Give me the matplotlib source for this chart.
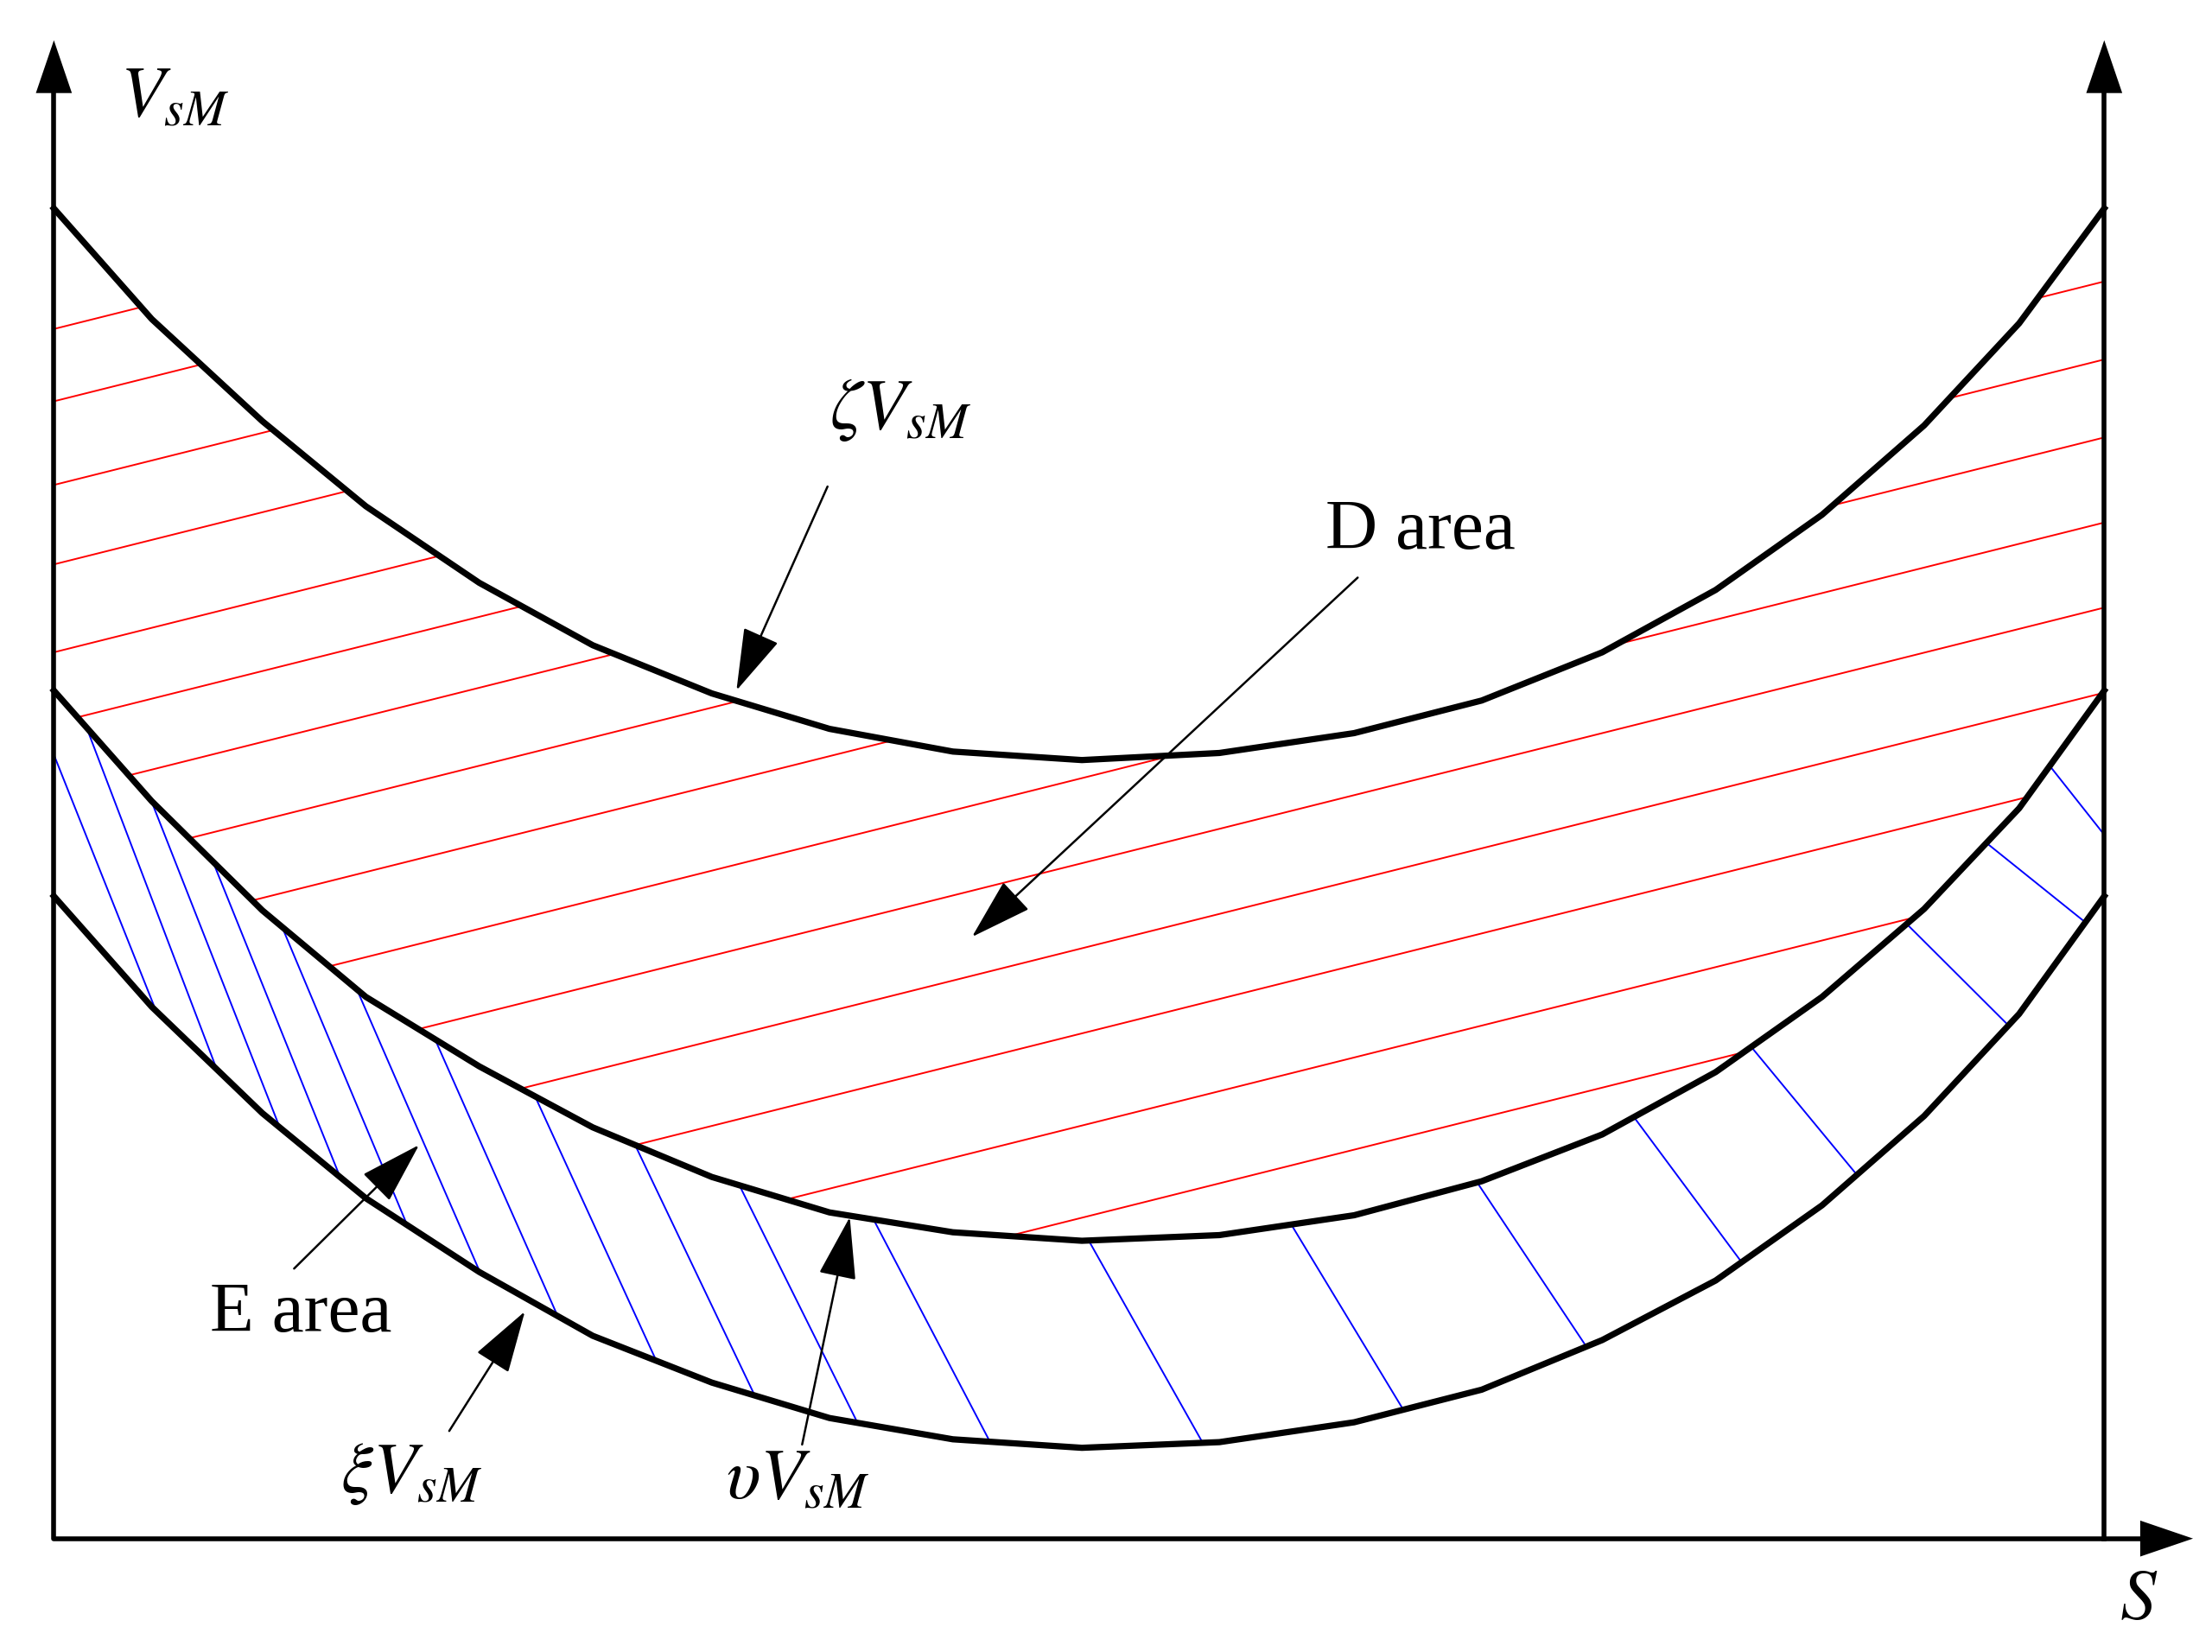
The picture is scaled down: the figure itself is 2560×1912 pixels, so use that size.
import matplotlib
matplotlib.use("Agg")
import matplotlib.pyplot as plt
from matplotlib.patches import Polygon
import numpy as np

H = 1165  # image-like coordinate frame, y measured downward then flipped
S = [38, 107, 185, 258, 338, 418, 502, 585, 672, 763, 860, 955, 1045, 1130, 1210, 1285, 1357, 1424, 1484]
top = [147, 225, 297, 357, 411, 455, 489, 514, 530, 536, 531, 517, 494, 460, 416, 363, 300, 228, 147]
mid = [487, 565, 642, 703, 752, 795, 830, 855, 869, 875, 871, 857, 833, 800, 756, 703, 641, 570, 487]
bot = [632, 710, 785, 845, 897, 942, 975, 1000, 1015, 1021, 1017, 1003, 980, 945, 903, 850, 787, 715, 632]
red_offsets = [232, 283, 342, 398, 460, 510, 560, 615, 670, 730, 790, 850, 910, 975, 1040, 1100]
blue_starts = [20, 62, 107, 150, 198, 250, 305, 375, 445, 518, 612, 763, 905, 1035, 1145, 1227, 1335, 1390, 1440]

S = np.array(S)
fy = lambda a: H - np.array(a, dtype=float)

fig = plt.figure(figsize=(12.8, 9.56), dpi=200)
ax = fig.add_axes([0, 0, 1, 1])
ax.set_xlim(0, 1560)
ax.set_ylim(0, H)
ax.axis("off")
plt.rcParams["font.family"] = "Liberation Serif"

# hatch regions
d_poly = Polygon(np.column_stack([np.r_[S, S[::-1]], np.r_[fy(top), fy(mid)[::-1]]]),
                 closed=True, fc="none", ec="none")
e_poly = Polygon(np.column_stack([np.r_[S, S[::-1]], np.r_[fy(mid), fy(bot)[::-1]]]),
                 closed=True, fc="none", ec="none")
ax.add_patch(d_poly)
ax.add_patch(e_poly)

xs = np.array([0, 1560])
for c in red_offsets:
    ln, = ax.plot(xs, fy(c - 0.25 * (xs - 38)), color="red", lw=0.7)
    ln.set_clip_path(d_poly)
for x0 in blue_starts:
    y0 = np.interp(x0, S, mid) - 30
    x1 = x0 + 90
    y1 = np.interp(x1, S, bot) + 30
    ln, = ax.plot([x0 - 12, x1 + 12], fy([y0, y1]), color="blue", lw=0.7)
    ln.set_clip_path(e_poly)

for c in (top, mid, bot):
    ax.plot(S, fy(c), color="black", lw=2.6)

# axes
ax.plot([38, 38, 1520], fy([50, 1085, 1085]), color="black", lw=2)
ax.plot([1484, 1484], fy([50, 1085]), color="black", lw=2)
for x, y, dx, dy in [(38, 70, 0, 45), (1484, 70, 0, 45), (1505, 1085, 45, 0)]:
    ax.annotate("", xy=(x + dx, H - y + dy), xytext=(x, H - y),
                arrowprops=dict(arrowstyle="-|>,head_length=2.2,head_width=0.75",
                                color="black", lw=0))

def pointer(tx, ty, hx, hy):
    ax.annotate("", xy=(hx, H - hy), xytext=(tx, H - ty),
                arrowprops=dict(arrowstyle="-|>,head_length=2.3,head_width=0.7",
                                color="black", lw=0.9))

pointer(585, 340, 518, 490)
pointer(960, 405, 683, 663)
pointer(205, 897, 298, 805)
pointer(315, 1012, 372, 922)
pointer(565, 1022, 600, 855)

fs = 30
ax.text(85, H - 70, r"$V_{sM}$", fontsize=fs, ha="left", va="center", math_fontfamily="stix")
ax.text(1495, H - 1130, r"$S$", fontsize=fs, ha="left", va="center", math_fontfamily="stix")
ax.text(585, H - 290, r"$\zeta V_{sM}$", fontsize=fs, ha="left", va="center", math_fontfamily="stix")
ax.text(935, H - 375, "D area", fontsize=fs, ha="left", va="center")
ax.text(148, H - 927, "E area", fontsize=fs, ha="left", va="center")
ax.text(240, H - 1040, r"$\xi V_{sM}$", fontsize=fs, ha="left", va="center", math_fontfamily="stix")
ax.text(512, H - 1045, r"$\upsilon V_{sM}$", fontsize=fs, ha="left", va="center", math_fontfamily="stix")

fig.savefig("out.png", dpi=200, facecolor="white")
